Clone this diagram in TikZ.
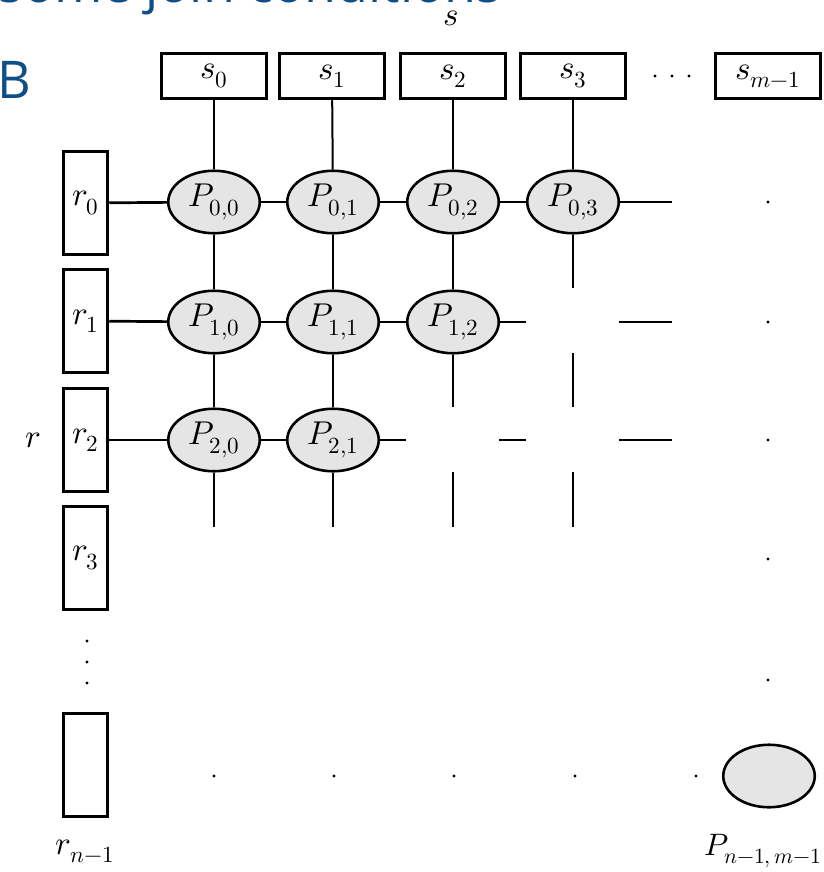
\documentclass[tikz,border=0pt]{standalone}
\usepackage{fontspec}
\usepackage{unicode-math}
\setmathfont{Latin Modern Math}
\setsansfont{Open Sans}
\usetikzlibrary{shapes.geometric}
\definecolor{titleblue}{RGB}{16,78,135}
\begin{document}
\begin{tikzpicture}[x=1pt,y=-1pt,
  mathfont/.style={font=\fontsize{33}{38}\selectfont},
  smallmath/.style={font=\fontsize{31}{36}\selectfont},
  sbox/.style={draw, line width=3pt, minimum width=104.5pt, minimum height=45.5pt, inner sep=0pt, mathfont},
  rbox/.style={draw, line width=3pt, minimum width=44.5pt, minimum height=103.5pt, inner sep=0pt, mathfont},
  proc/.style={ellipse, draw, line width=2.6pt, fill=black!10, minimum width=91.5pt, minimum height=62.5pt, inner sep=0pt, mathfont},
  conn/.style={line width=2pt},
  thickconn/.style={line width=2.7pt},
  smalldot/.style={circle, fill=black, inner sep=0pt, minimum size=3.4pt},
  lab/.style={inner sep=0pt, mathfont},
  bluetext/.style={inner sep=0pt, text=titleblue, font=\sffamily\fontsize{52}{58}\selectfont}
]
\useasboundingbox (0,0) rectangle (823,872);

% title fragments
\node[bluetext, anchor=base west] (title) at (-2,3) {some join conditions};
\node[bluetext, anchor=base west] (bb) at (-3,99) {B};
\node[lab] (slab) at (451,18) {$s$};
\node[lab] (rlab) at (33,440) {$r$};

% s boxes
\node[sbox] (s0) at (214,76) {$s_0$};
\node[sbox] (s1) at (332,76) {$s_1$};
\node[sbox] (s2) at (453,76) {$s_2$};
\node[sbox] (s3) at (573,76) {$s_3$};
\node[sbox] (sm) at (768,76) {$s_{m-1}$};
\node[smalldot] (sd1) at (655,76) {};
\node[smalldot] (sd2) at (672,76) {};
\node[smalldot] (sd3) at (689,76) {};

% r boxes
\node[rbox] (r0) at (85.5,203) {$r_0$};
\node[rbox] (r1) at (85.5,321) {$r_1$};
\node[rbox] (r2) at (85.5,440) {$r_2$};
\node[rbox] (r3) at (85.5,558) {$r_3$};
\node[rbox] (rn) at (85.5,765) {};
\node[smalldot] (rd1) at (87,641) {};
\node[smalldot] (rd2) at (87,662) {};
\node[smalldot] (rd3) at (87,683) {};
\node[lab] (rnlab) at (85,851) {$r_{n-1}$};

% processors
\node[proc] (P00) at (214,202) {$P_{0,0}$};
\node[proc] (P01) at (333,202) {$P_{0,1}$};
\node[proc] (P02) at (453,202) {$P_{0,2}$};
\node[proc] (P03) at (573,202) {$P_{0,3}$};
\node[proc] (P10) at (214,322) {$P_{1,0}$};
\node[proc] (P11) at (333,322) {$P_{1,1}$};
\node[proc] (P12) at (453,322) {$P_{1,2}$};
\node[proc] (P20) at (214,440) {$P_{2,0}$};
\node[proc] (P21) at (333,440) {$P_{2,1}$};
\node[proc] (Pnm) at (769,776) {};
\node[inner sep=0pt, smallmath] (Pnmlab) at (763,851) {$P_{n-1,\,m-1}$};

% right column dots
\node[smalldot] (cd0) at (768,202) {};
\node[smalldot] (cd1) at (768,322) {};
\node[smalldot] (cd2) at (768,440) {};
\node[smalldot] (cd3) at (768,559) {};
\node[smalldot] (cd4) at (768,680) {};
% bottom row dots
\node[smalldot] (bd0) at (214,776) {};
\node[smalldot] (bd1) at (334,776) {};
\node[smalldot] (bd2) at (454,776) {};
\node[smalldot] (bd3) at (575,776) {};
\node[smalldot] (bd4) at (696,776) {};

% free ends
\coordinate (h03) at (672,202);
\coordinate (h12) at (526,322);
\coordinate (h13a) at (619,322);
\coordinate (h13b) at (672,322);
\coordinate (h21) at (406,440);
\coordinate (h22a) at (499,440);
\coordinate (h22b) at (526,440);
\coordinate (h23a) at (619,440);
\coordinate (h23b) at (672,440);
\coordinate (v20) at (214,527);
\coordinate (v21) at (333,527);
\coordinate (v12) at (453,407);
\coordinate (v22a) at (453,472);
\coordinate (v22b) at (453,527);
\coordinate (v03) at (573,288);
\coordinate (v13a) at (573,353);
\coordinate (v13b) at (573,407);
\coordinate (v23a) at (573,472);
\coordinate (v23b) at (573,527);

% s to P
\draw[conn] (s0) -- (P00);
\draw[conn] (s1) -- (P01);
\draw[conn] (s2) -- (P02);
\draw[conn] (s3) -- (P03);
% r to P
\draw[thickconn] (r0) -- (P00);
\draw[thickconn] (r1) -- (P10);
\draw[conn] (r2) -- (P20);
% horizontal
\draw[conn] (P00) -- (P01);
\draw[conn] (P01) -- (P02);
\draw[conn] (P02) -- (P03);
\draw[conn] (P03) -- (h03);
\draw[conn] (P10) -- (P11);
\draw[conn] (P11) -- (P12);
\draw[conn] (P12) -- (h12);
\draw[conn] (h13a) -- (h13b);
\draw[conn] (P20) -- (P21);
\draw[conn] (P21) -- (h21);
\draw[conn] (h22a) -- (h22b);
\draw[conn] (h23a) -- (h23b);
% vertical
\draw[conn] (P00) -- (P10);
\draw[conn] (P10) -- (P20);
\draw[conn] (P20) -- (v20);
\draw[conn] (P01) -- (P11);
\draw[conn] (P11) -- (P21);
\draw[conn] (P21) -- (v21);
\draw[conn] (P02) -- (P12);
\draw[conn] (P12) -- (v12);
\draw[conn] (v22a) -- (v22b);
\draw[conn] (P03) -- (v03);
\draw[conn] (v13a) -- (v13b);
\draw[conn] (v23a) -- (v23b);
\end{tikzpicture}
\end{document}
